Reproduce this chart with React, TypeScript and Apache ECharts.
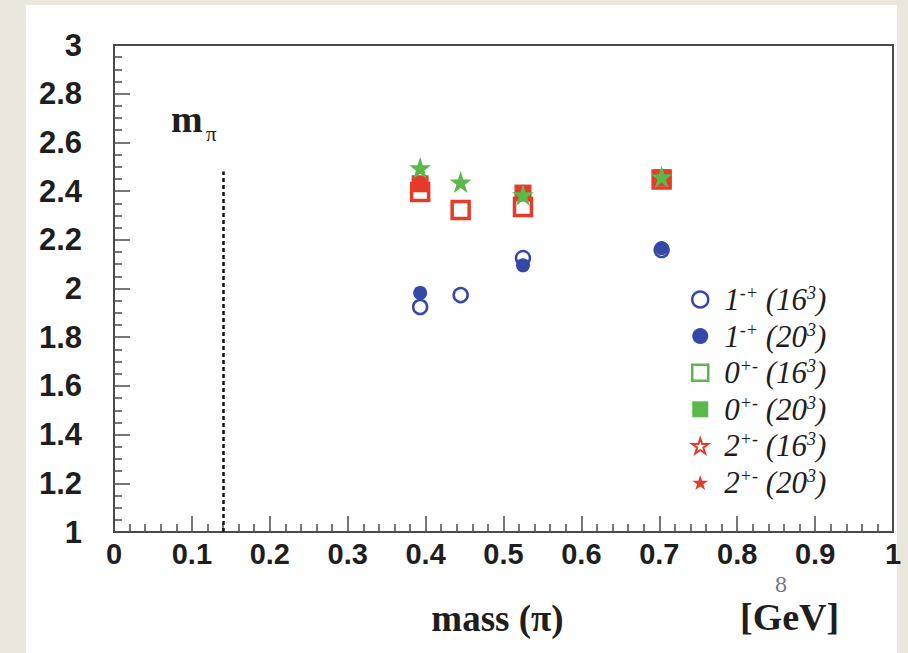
import React, { useEffect, useRef } from "react";
import * as echarts from "echarts";

// ---- data ----
const massFour = [0.393, 0.445, 0.525, 0.703];
const massThree = [0.393, 0.525, 0.703];
const oneMP16 = [1.924, 1.973, 2.125, 2.158];
const oneMP20 = [1.982, 2.095, 2.166];
const zeroPM16 = [2.396, 2.322, 2.335, 2.448];
const zeroPM20 = [2.43, 2.392, 2.454];
const twoPM20 = [2.495, 2.437, 2.385, 2.458];
const twoPM16: number[] = [];
const mPi = 0.14;
const mPiLineTop = 2.48;

const xTicks = { min: 0, max: 1, interval: 0.1 };
const yTicks = { min: 1, max: 3, interval: 0.2 };

const seriesNames = [
  "1-+ (16^3)",
  "1-+ (20^3)",
  "0+- (16^3)",
  "0+- (20^3)",
  "2+- (16^3)",
  "2+- (20^3)",
];
const legendRich: Record<string, string> = {
  "1-+ (16^3)": "{n|1}{s|-+}{n| (16}{s|3}{n|)}",
  "1-+ (20^3)": "{n|1}{s|-+}{n| (20}{s|3}{n|)}",
  "0+- (16^3)": "{n|0}{s|+-}{n| (16}{s|3}{n|)}",
  "0+- (20^3)": "{n|0}{s|+-}{n| (20}{s|3}{n|)}",
  "2+- (16^3)": "{n|2}{s|+-}{n| (16}{s|3}{n|)}",
  "2+- (20^3)": "{n|2}{s|+-}{n| (20}{s|3}{n|)}",
};

const BLUE = "#3548aa";
const GREEN = "#5ab94a";
const RED = "#e63a2b";
const STAR =
  "path://M50,0 L61.8,35.3 L99,35.3 L69,57.2 L80.4,92.6 L50,70.7 L19.6,92.6 L31,57.2 L1,35.3 L38.2,35.3 Z";

const pairs = (xs: number[], ys: number[]) => ys.map((y, i) => [xs[i], y]);

export default function App() {
  const ref = useRef<HTMLDivElement>(null);
  useEffect(() => {
    if (!ref.current) return;
    const chart = echarts.init(ref.current, null, { renderer: "svg" });
    const axisColor = "#4a4a4a";
    const serif = "Liberation Serif, Times New Roman, serif";
    const fmt = (v: number) => String(+v.toFixed(1));
    chart.setOption({
      animation: false,
      backgroundColor: "transparent",
      grid: {
        left: 114,
        top: 45,
        right: 15,
        bottom: 121,
        show: true,
        borderColor: axisColor,
        borderWidth: 2,
        backgroundColor: "#ffffff",
      },
      xAxis: {
        type: "value",
        ...xTicks,
        name: "mass (π)",
        nameLocation: "middle",
        nameGap: 68,
        nameTextStyle: {
          fontFamily: serif,
          fontWeight: "bold",
          fontSize: 37,
          color: "#1e1e1e",
          padding: [0, 12, 0, 0],
        },
        axisLine: { show: true, lineStyle: { color: axisColor, width: 2 } },
        axisTick: { show: true, inside: true, length: 16, lineStyle: { color: axisColor, width: 1.5 } },
        minorTick: { show: true, splitNumber: 5, length: 8, lineStyle: { color: axisColor, width: 1.5 } },
        axisLabel: {
          fontFamily: "Liberation Sans, Arial, sans-serif",
          fontWeight: "bold",
          fontSize: 29,
          color: "#1e1e1e",
          margin: 7,
          formatter: fmt,
        },
        splitLine: { show: false },
      },
      yAxis: {
        type: "value",
        ...yTicks,
        axisLine: { show: true, lineStyle: { color: axisColor, width: 2 } },
        axisTick: { show: true, inside: true, length: 16, lineStyle: { color: axisColor, width: 1.5 } },
        minorTick: { show: true, splitNumber: 4, length: 8, lineStyle: { color: axisColor, width: 1.5 } },
        axisLabel: {
          fontFamily: "Liberation Sans, Arial, sans-serif",
          fontWeight: "bold",
          fontSize: 31,
          color: "#1e1e1e",
          margin: 32,
          formatter: fmt,
        },
        splitLine: { show: false },
      },
      legend: {
        orient: "vertical",
        left: 686,
        top: 279,
        itemWidth: 16,
        itemHeight: 16,
        itemGap: 5.6,
        selectedMode: false,
        formatter: (name: string) => legendRich[name] || name,
        textStyle: {
          fontFamily: serif,
          fontStyle: "italic",
          fontSize: 31,
          color: "#1e1e1e",
          padding: [0, 0, 0, 11],
          rich: {
            n: {
              fontFamily: serif,
              fontStyle: "italic",
              fontSize: 31,
              lineHeight: 31,
              color: "#1e1e1e",
            },
            s: {
              fontFamily: serif,
              fontStyle: "italic",
              fontSize: 18,
              lineHeight: 18,
              verticalAlign: "top",
              color: "#1e1e1e",
            },
          },
        },
        data: [
          { name: seriesNames[0], icon: "circle", itemStyle: { color: "#fff", borderColor: BLUE, borderWidth: 2.5 } },
          { name: seriesNames[1], icon: "circle", itemStyle: { color: BLUE, borderWidth: 0 } },
          { name: seriesNames[2], icon: "rect", itemStyle: { color: "#fff", borderColor: GREEN, borderWidth: 2.5 } },
          { name: seriesNames[3], icon: "rect", itemStyle: { color: GREEN, borderWidth: 0 } },
          { name: seriesNames[4], icon: STAR, itemStyle: { color: "#fff", borderColor: RED, borderWidth: 2 } },
          { name: seriesNames[5], icon: STAR, itemStyle: { color: RED, borderWidth: 0 } },
        ],
      },
      graphic: [
        {
          type: "text",
          left: 171,
          top: 100,
          style: {
            text: "m",
            fontFamily: serif,
            fontWeight: "bold",
            fontSize: 38,
            fill: "#1e1e1e",
          },
        },
        {
          type: "text",
          left: 206,
          top: 123,
          style: {
            text: "π",
            fontFamily: serif,
            fontSize: 21,
            fill: "#1e1e1e",
          },
        },
        {
          type: "text",
          left: 740,
          top: 598,
          style: {
            text: "[GeV]",
            fontFamily: serif,
            fontWeight: "bold",
            fontSize: 38,
            fill: "#1e1e1e",
          },
        },
        {
          type: "text",
          left: 775,
          top: 572,
          style: {
            text: "8",
            fontFamily: serif,
            fontSize: 24,
            fill: "#777777",
          },
        },
      ],
      series: [
        {
          name: seriesNames[0],
          type: "scatter",
          symbol: "circle",
          symbolSize: 14,
          z: 3,
          itemStyle: { color: "#fff", borderColor: BLUE, borderWidth: 2.5, opacity: 1 },
          data: pairs(massFour, oneMP16),
          markLine: {
            silent: true,
            symbol: "none",
            label: { show: false },
            lineStyle: { color: "#111", type: [4, 3], width: 2.5 },
            data: [[{ coord: [mPi, yTicks.min] }, { coord: [mPi, mPiLineTop] }]],
          },
        },
        {
          name: seriesNames[1],
          type: "scatter",
          symbol: "circle",
          symbolSize: 14,
          z: 4,
          itemStyle: { color: BLUE, opacity: 1 },
          data: pairs(massThree, oneMP20),
        },
        {
          name: seriesNames[2],
          type: "scatter",
          symbol: "rect",
          symbolSize: 17,
          z: 5,
          itemStyle: { color: "#fff", borderColor: RED, borderWidth: 3.5, opacity: 1 },
          data: pairs(massFour, zeroPM16),
        },
        {
          name: seriesNames[3],
          type: "scatter",
          symbol: "rect",
          symbolSize: 17,
          z: 6,
          itemStyle: { color: RED, opacity: 1 },
          data: pairs(massThree, zeroPM20),
        },
        {
          name: seriesNames[4],
          type: "scatter",
          symbol: STAR,
          symbolSize: 18,
          z: 7,
          itemStyle: { color: "#fff", borderColor: RED, borderWidth: 2, opacity: 1 },
          data: pairs(massFour, twoPM16),
        },
        {
          name: seriesNames[5],
          type: "scatter",
          symbol: STAR,
          symbolSize: 22,
          z: 8,
          itemStyle: { color: GREEN, opacity: 1 },
          data: pairs(massFour, twoPM20),
        },
      ],
    });
    return () => chart.dispose();
  }, []);

  return (
    <div style={{ position: "fixed", left: 0, top: 0, width: 908, height: 653, background: "#e9e7de" }}>
      <div style={{ position: "absolute", left: 26, top: 5, width: 871, height: 648, background: "#ffffff" }} />
      <div ref={ref} style={{ position: "absolute", left: 0, top: 0, width: 908, height: 653 }} />
    </div>
  );
}
